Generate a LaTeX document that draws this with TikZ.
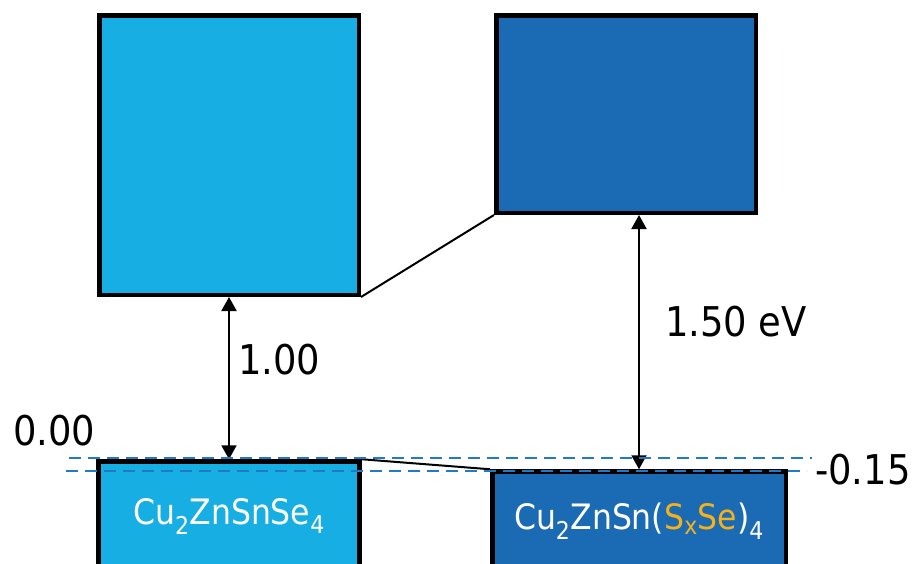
\documentclass[tikz,border=0pt]{standalone}
\usepackage{fontspec}
\setmainfont{DejaVu Sans Condensed}
\usetikzlibrary{arrows.meta}
\definecolor{lightcell}{HTML}{17AFE3}
\definecolor{darkcell}{HTML}{1A6BB3}
\definecolor{levelline}{HTML}{1F7BC8}
\definecolor{sulfur}{HTML}{F5B01C}
\begin{document}
\begin{tikzpicture}[x=1pt,y=-1pt,
  band/.style={draw=black, line width=4.5pt, rectangle, inner sep=0pt},
  lightband/.style={band, fill=lightcell},
  darkband/.style={band, fill=darkcell},
  bandtext/.style={text=white, font=\fontsize{35}{35}\selectfont},
  value/.style={inner sep=0pt, anchor=west, font=\fontsize{41}{41}\selectfont},
  gaparrow/.style={line width=2pt, {Triangle[length=14pt,width=15pt]}-{Triangle[length=14pt,width=15pt]}},
  joinline/.style={line width=2pt},
  level/.style={draw=levelline, line width=2pt, dash pattern=on 12pt off 7pt}
]
\useasboundingbox (0,0) rectangle (913,563);
\clip (0,0) rectangle (913,563);

% conduction bands
\node[lightband, minimum width=259.5pt, minimum height=279.5pt] (tl) at (229,155) {};
\node[darkband, minimum width=259.5pt, minimum height=197.5pt] (tr) at (626,114) {};

% valence bands
\node[lightband, bandtext, minimum width=261pt, minimum height=110pt] (bl) at (229,516.5)
  {Cu\textsubscript{2}ZnSnSe\textsubscript{4}};
\node[darkband, bandtext, minimum width=293.5pt, minimum height=100pt] (br) at (639,521.5)
  {Cu\textsubscript{2}ZnSn(\textcolor{sulfur}{S\textsubscript{x}Se})\textsubscript{4}};

% band offsets
\draw[joinline] (tl.south east) -- (tr.south west);
\draw[joinline] (bl.north east) -- (br.north west);

% gaps
\draw[gaparrow] (bl.north) -- (tl.south);
\draw[gaparrow] (br.north) -- (br.north |- tr.south);

% valence band maxima
\coordinate (vw0) at (69,458);
\coordinate (ve0) at (812,458);
\coordinate (vw1) at (66,470.5);
\coordinate (ve1) at (807,470.5);
\draw[level] (vw0) -- (ve0);
\draw[level] (vw1) -- (ve1);

% values
\node[value] (g1) at (238,360) {1.00};
\node[value] (g2) at (665,322) {1.50 eV};
\node[value] (z0) at (13,431) {0.00};
\node[value] (z1) at (815,470) {-0.15};
\end{tikzpicture}
\end{document}
